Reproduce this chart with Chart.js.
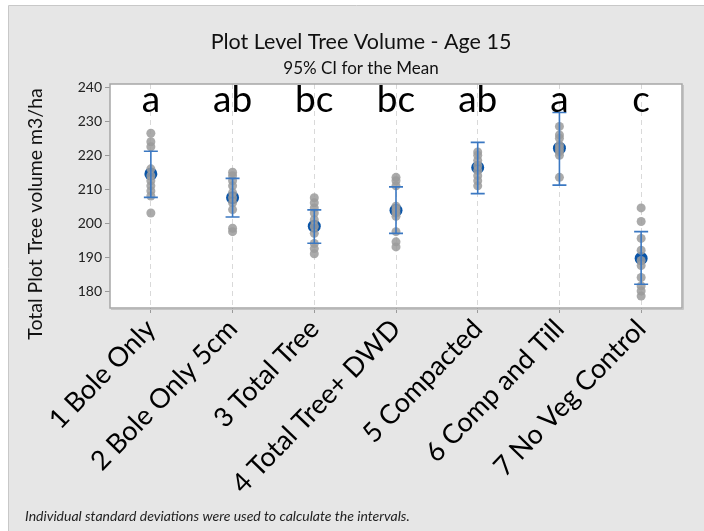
<!DOCTYPE html>
<html>
<head>
<meta charset="utf-8">
<script src="https://cdn.jsdelivr.net/npm/chart.js@4.4.0/dist/chart.umd.min.js"></script>
<style>
  html, body { margin: 0; padding: 0; background: #fff; }
</style>
</head>
<body>
<canvas id="c" width="704" height="531"></canvas>
<script>
const categories = ['1 Bole Only', '2 Bole Only 5cm', '3 Total Tree', '4 Total Tree+ DWD',
                    '5 Compacted', '6 Comp and Till', '7 No Veg Control'];
const letters = ['a', 'ab', 'bc', 'bc', 'ab', 'a', 'c'];
const means  = [214.5, 207.5, 199.1, 203.8, 216.4, 222.1, 189.6];
const ciLow  = [207.6, 201.8, 194.1, 197.0, 208.7, 211.2, 182.0];
const ciHigh = [221.2, 213.2, 203.9, 210.7, 223.8, 232.6, 197.5];
const yTicks = [180, 190, 200, 210, 220, 230, 240];

// individual plot values per treatment
const obs1 = [226.5, 224, 222.5, 216, 214, 212.5, 211, 209.5, 208, 203];
const obs2 = [215, 214, 212.5, 211, 209, 207.5, 206, 204, 198.5, 197.5];
const obs3 = [207.5, 206, 204.5, 203, 201, 199, 197, 194, 192.5, 191];
const obs4 = [213.5, 212.5, 211, 205, 204, 203, 202, 197.5, 194.5, 193];
const obs5 = [221, 220, 218.5, 217, 215.5, 214, 212.5, 211];
const obs6 = [228.5, 226, 225, 223, 222, 221, 220, 213.5];
const obs7 = [204.5, 200.5, 195.5, 192, 189, 187.5, 184, 181.5, 180, 178.5];
const observations = [obs1, obs2, obs3, obs4, obs5, obs6, obs7];

const pointData = [];
observations.forEach((list, i) => {
    list.forEach(v => pointData.push({ x: categories[i], y: v }));
});
const meanData = means.map((m, i) => ({ x: categories[i], y: m }));

const FONT = 'Lato';

// grey panel, white plot area, frame, error bars and texts
const decor = {
    id: 'decor',
    beforeDraw(chart) {
        const ctx = chart.ctx;
        const a = chart.chartArea;
        ctx.save();
        ctx.fillStyle = '#ffffff';
        ctx.fillRect(0, 0, chart.width, chart.height);
        ctx.fillStyle = '#e6e6e6';
        ctx.fillRect(9, 6, chart.width - 9, chart.height - 6);
        ctx.strokeStyle = '#c8c8c8';
        ctx.lineWidth = 1;
        ctx.beginPath();
        ctx.moveTo(8.5, chart.height);
        ctx.lineTo(8.5, 5.5);
        ctx.lineTo(chart.width, 5.5);
        ctx.stroke();
        ctx.fillStyle = '#ffffff';
        ctx.fillRect(a.left, a.top, a.right - a.left, a.bottom - a.top);
        ctx.restore();
    },
    afterDatasetDraw(chart, args) {
        if (args.index !== 0) return;
        const ctx = chart.ctx;
        const x = chart.scales.x, y = chart.scales.y;
        ctx.save();
        ctx.strokeStyle = '#3b78c2';
        ctx.lineWidth = 1.6;
        categories.forEach((c, i) => {
            const px = x.getPixelForValue(i);
            const top = y.getPixelForValue(ciHigh[i]);
            const bot = y.getPixelForValue(ciLow[i]);
            ctx.beginPath();
            ctx.moveTo(px, top); ctx.lineTo(px, bot);
            ctx.moveTo(px - 7, top); ctx.lineTo(px + 7, top);
            ctx.moveTo(px - 7, bot); ctx.lineTo(px + 7, bot);
            ctx.stroke();
        });
        ctx.restore();
    },
    afterDraw(chart) {
        const ctx = chart.ctx;
        const a = chart.chartArea;
        const x = chart.scales.x;
        ctx.save();
        // frame
        ctx.strokeStyle = '#a6a6a6';
        ctx.lineWidth = 1.5;
        ctx.strokeRect(a.left, a.top, a.right - a.left, a.bottom - a.top);
        ctx.strokeStyle = '#c4c4c4';
        ctx.lineWidth = 1;
        ctx.beginPath();
        ctx.moveTo(a.left + 1, a.bottom + 1.5);
        ctx.lineTo(a.right + 1.5, a.bottom + 1.5);
        ctx.lineTo(a.right + 1.5, a.top + 1);
        ctx.stroke();

        // titles
        ctx.fillStyle = '#111';
        ctx.textAlign = 'center';
        ctx.textBaseline = 'middle';
        ctx.font = '21.5px ' + FONT;
        ctx.fillText('Plot Level Tree Volume - Age 15', 361, 42);
        ctx.font = '17px ' + FONT;
        ctx.fillText('95% CI for the Mean', 361, 69);

        // grouping letters
        ctx.fillStyle = '#000';
        ctx.textBaseline = 'alphabetic';
        ctx.font = '37px ' + FONT;
        letters.forEach((l, i) => {
            ctx.fillText(l, x.getPixelForValue(i), 112);
        });

        // y axis title
        ctx.save();
        ctx.translate(36, 214);
        ctx.rotate(-Math.PI / 2);
        ctx.textBaseline = 'middle';
        ctx.fillStyle = '#111';
        ctx.font = '19.5px ' + FONT;
        ctx.fillText('Total Plot Tree volume m3/ha', 0, 0);
        ctx.restore();

        // footnote
        ctx.textAlign = 'left';
        ctx.textBaseline = 'middle';
        ctx.fillStyle = '#222';
        ctx.font = 'italic 14px ' + FONT;
        ctx.fillText('Individual standard deviations were used to calculate the intervals.', 25, 516);
        ctx.restore();
    }
};

new Chart(document.getElementById('c'), {
    type: 'line',
    data: {
        labels: categories,
        datasets: [{
            data: pointData,
            showLine: false,
            pointRadius: 4.5,
            pointBackgroundColor: 'rgba(155,155,155,0.85)',
            pointBorderWidth: 0,
            pointBorderColor: 'rgba(0,0,0,0)'
        }, {
            data: meanData,
            showLine: false,
            pointRadius: 6.5,
            pointBackgroundColor: '#0a55a8',
            pointBorderWidth: 0,
            pointBorderColor: 'rgba(0,0,0,0)'
        }]
    },
    options: {
        responsive: false,
        animation: false,
        layout: { padding: { top: 84, right: 22, left: 0, bottom: 0 } },
        plugins: { legend: { display: false }, tooltip: { enabled: false } },
        scales: {
            x: {
                type: 'category',
                offset: true,
                grid: { color: '#d9d9d9', lineWidth: 1, tickLength: 5, tickColor: '#9a9a9a', tickBorderDash: [] },
                border: { display: false, dash: [5, 4] },
                ticks: {
                    autoSkip: false, minRotation: 46, maxRotation: 46,
                    color: '#000', font: { family: FONT, size: 27 }, padding: 0
                },
                afterFit(s) { s.height = 223; }
            },
            y: {
                min: 175, max: 241,
                afterBuildTicks(s) { s.ticks = yTicks.map(v => ({ value: v })); },
                grid: { drawOnChartArea: false, tickLength: 5, tickColor: '#9a9a9a' },
                border: { display: false },
                ticks: { color: '#222', font: { family: FONT, size: 14 }, padding: 3 },
                afterFit(s) { s.width = 110; }
            }
        }
    },
    plugins: [decor]
});
</script>
</body>
</html>
